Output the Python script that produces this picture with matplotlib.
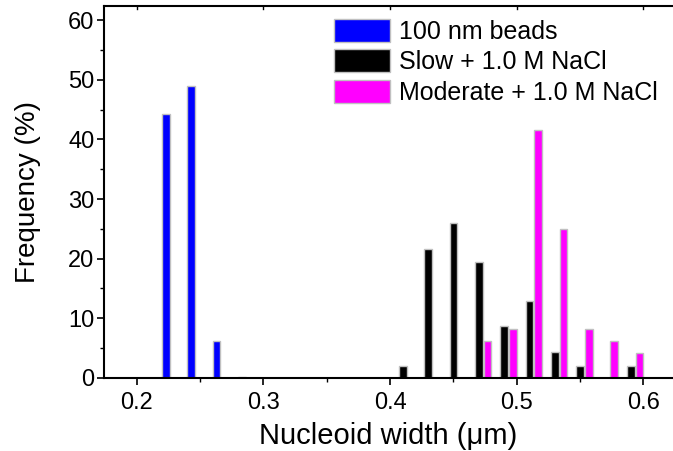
import matplotlib
matplotlib.use("Agg")
import matplotlib.pyplot as plt
import numpy as np

plt.rcParams['font.family'] = ['Liberation Sans', 'DejaVu Sans']

# Data
bead_x = [0.23, 0.25, 0.27, 0.29]
bead_freq = [44.3, 49.0, 6.2, 0.2]
slow_x = [0.41, 0.43, 0.45, 0.47, 0.49, 0.51, 0.53, 0.55, 0.57, 0.59]
slow_freq = [2.0, 21.6, 25.9, 19.4, 8.6, 12.9, 4.3, 2.0, 0.0, 2.0]
mod_x = [0.47, 0.49, 0.51, 0.53, 0.55, 0.57, 0.59]
mod_freq = [6.2, 8.2, 41.6, 24.9, 8.2, 6.2, 4.1]
labels = ["100 nm beads", "Slow + 1.0 M NaCl", "Moderate + 1.0 M NaCl"]
colors = ["#0000ff", "#000000", "#ff00ff"]
xticks = [0.2, 0.3, 0.4, 0.5, 0.6]
yticks = [0, 10, 20, 30, 40, 50, 60]

fig = plt.figure(figsize=(6.73, 4.51), dpi=100)
ax = fig.add_axes([104/673, 73.3/451, 568/673, 372.2/451])

pitch = 0.0069
width = 0.006
edge = "#c0c0c0"
ax.bar(np.array(bead_x) - pitch, bead_freq, width=width, color=colors[0],
       edgecolor=edge, linewidth=1.0, label=labels[0])
ax.bar(np.array(slow_x), slow_freq, width=width, color=colors[1],
       edgecolor=edge, linewidth=1.0, label=labels[1])
ax.bar(np.array(mod_x) + pitch, mod_freq, width=width, color=colors[2],
       edgecolor=edge, linewidth=1.0, label=labels[2])

ax.set_xlim(0.1742, 0.6225)
ax.set_ylim(0, 62.5)
ax.set_xticks(xticks)
ax.set_xticklabels([f"{v:.1f}" for v in xticks])
ax.set_yticks(yticks)
ax.set_xticks(np.arange(0.25, 0.6, 0.1), minor=True)
ax.set_yticks(np.arange(5, 60, 10), minor=True)

ax.tick_params(axis='both', which='major', direction='out', length=5, width=1.2,
               labelsize=17)
ax.tick_params(axis='x', which='major', pad=5)
ax.tick_params(axis='y', which='major', pad=2)
ax.tick_params(axis='both', which='minor', direction='out', length=3, width=1.0)
ax.tick_params(top=False, right=False, which='both')

# top ticks inward at majors
for xv in xticks:
    ax.plot([xv, xv], [62.5, 62.5 - 0.55], color='black', lw=1.0, clip_on=False)

for s in ['left', 'bottom', 'top']:
    ax.spines[s].set_linewidth(1.5)
ax.spines['right'].set_visible(False)

ax.set_xlabel("Nucleoid width (\u03bcm)", fontsize=21)
ax.set_ylabel("Frequency (%)", fontsize=20)
ax.xaxis.set_label_coords(0.5, -0.118)
ax.yaxis.set_label_coords(-0.111, 0.5)

leg = ax.legend(loc='upper left', bbox_to_anchor=((334 - 104) / 568, 0.965),
                frameon=False, fontsize=18, handlelength=2.24, handleheight=1.04,
                handletextpad=0.36, labelspacing=0.22, borderaxespad=0,
                borderpad=0)

fig.savefig("out.png", dpi=100)
